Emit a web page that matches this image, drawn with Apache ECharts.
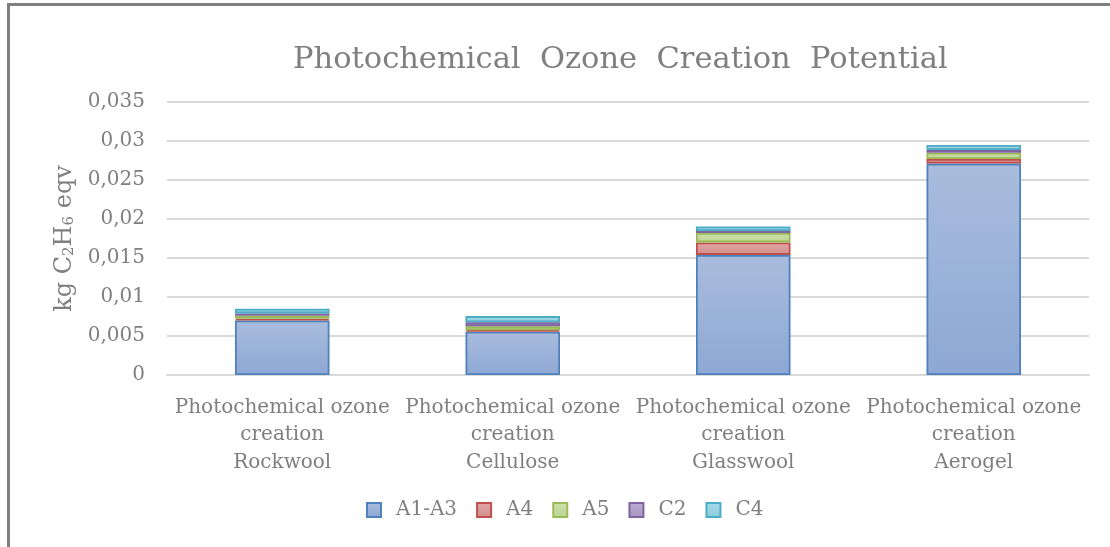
<!DOCTYPE html>
<html>
<head>
<meta charset="utf-8">
<script src="https://cdn.jsdelivr.net/npm/echarts@6/dist/echarts.min.js"></script>
<style>
  html, body { margin: 0; padding: 0; background: #fff; }
  #wrap { position: relative; width: 1110px; height: 547px; overflow: hidden; }
  #frame { position: absolute; left: 7px; top: 3px; width: 1200px; height: 700px;
           border-left: 3px solid #7f7f7f; border-top: 3px solid #7f7f7f; }
  #chart { position: absolute; left: 0; top: 0; width: 1110px; height: 547px; }
</style>
</head>
<body>
<div id="wrap">
  <div id="frame"></div>
  <div id="chart"></div>
</div>
<script>
// values (kg C2H6 eqv)
const categories = [
  'Photochemical ozone\ncreation\nRockwool',
  'Photochemical ozone\ncreation\nCellulose',
  'Photochemical ozone\ncreation\nGlasswool',
  'Photochemical ozone\ncreation\nAerogel'
];
const seriesNames = ['A1-A3', 'A4', 'A5', 'C2', 'C4'];
const a1a3 = [0.0070, 0.00555, 0.0154, 0.0271];
const a4 = [0.0002, 0.0002, 0.0016, 0.0006];
const a5 = [0.0004, 0.0005, 0.0012, 0.0008];
const c2 = [0.0003, 0.0005, 0.00025, 0.00035];
const c4 = [0.0006, 0.0008, 0.0006, 0.00065];

const yTicks = { min: 0, max: 0.035, interval: 0.005 };

const font = 'DejaVu Serif';
const gray = '#7f7f7f';

// border colour, light fill (top), darker fill (bottom)
const colors = [
  ['#4f81bd', '#a9bcdd', '#8ea8d4'],
  ['#c0504d', '#e0a8a6', '#d48e8c'],
  ['#9bbb59', '#cfe0ad', '#bcd392'],
  ['#8064a2', '#bcaed0', '#a895c0'],
  ['#4bacc6', '#a9dae7', '#8ccbdc']
];

const chart = echarts.init(document.getElementById('chart'));

function makeSeries(name, data, idx) {
  const c = colors[idx];
  return {
    name: name,
    type: 'bar',
    stack: 'total',
    barWidth: '41%',
    data: data,
    itemStyle: {
      color: new echarts.graphic.LinearGradient(0, 0, 0, 1, [
        { offset: 0, color: c[1] },
        { offset: 1, color: c[2] }
      ]),
      borderColor: c[0],
      borderWidth: 1.8
    }
  };
}

const option = {
  animation: false,
  backgroundColor: 'transparent',
  title: {
    text: 'Photochemical  Ozone  Creation  Potential',
    left: 288,
    top: 40,
    textStyle: { fontFamily: font, fontSize: 30.5, fontWeight: 'normal', color: gray }
  },
  grid: { left: 167, right: 21, top: 102, bottom: 172 },
  legend: {
    bottom: 22,
    left: 361,
    icon: 'rect',
    itemWidth: 14,
    itemHeight: 14,
    itemGap: 19,
    textStyle: { fontFamily: font, fontSize: 20, color: gray, padding: [0, 0, 0, 10] },
    data: seriesNames
  },
  xAxis: {
    type: 'category',
    data: categories,
    axisLine: { lineStyle: { color: '#d9d9d9', width: 2 } },
    axisTick: { show: false },
    axisLabel: {
      interval: 0,
      margin: 19,
      fontFamily: font,
      fontSize: 20,
      lineHeight: 27.5,
      color: gray
    }
  },
  yAxis: {
    type: 'value',
    min: yTicks.min,
    max: yTicks.max,
    interval: yTicks.interval,
    name: 'kg C{sub|2}H{sub|6} eqv',
    nameLocation: 'middle',
    nameGap: 90,
    nameRotate: 90,
    nameTextStyle: {
      fontFamily: font,
      fontSize: 24,
      color: gray,
      rich: {
        sub: { fontFamily: font, fontSize: 15, color: gray, verticalAlign: 'bottom', padding: [9, 0, 0, 0] }
      }
    },
    axisLine: { show: false },
    axisTick: { show: false },
    splitLine: { lineStyle: { color: '#d9d9d9', width: 2 } },
    axisLabel: {
      margin: 22,
      fontFamily: font,
      fontSize: 20,
      color: gray,
      formatter: v => String(+v.toFixed(3)).replace('.', ',')
    }
  },
  series: [
    makeSeries('A1-A3', a1a3, 0),
    makeSeries('A4', a4, 1),
    makeSeries('A5', a5, 2),
    makeSeries('C2', c2, 3),
    makeSeries('C4', c4, 4)
  ]
};

chart.setOption(option);
</script>
</body>
</html>
